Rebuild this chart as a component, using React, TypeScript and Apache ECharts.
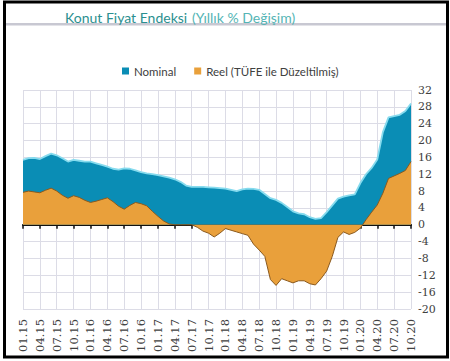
import React, { useEffect, useRef } from "react";
import * as echarts from "echarts";

const years = ["15", "16", "17", "18", "19", "20"];
const months = ["01", "02", "03", "04", "05", "06", "07", "08", "09", "10", "11", "12"];
const lastYearMonths = 10;

const nominal = [
  15.4, 15.8, 15.9, 15.6, 16.3, 16.9, 16.5, 15.8, 15.0, 15.4, 15.2, 15.0,
  15.0, 14.6, 14.2, 13.8, 13.3, 13.1, 13.4, 13.3, 12.9, 12.5, 12.2, 12.0,
  11.8, 11.5, 11.2, 10.8, 10.2, 9.3, 9.0, 9.0, 9.0, 8.9, 8.8, 8.7,
  8.6, 8.3, 8.0, 8.4, 8.6, 8.5, 8.3, 7.3, 6.3, 5.9, 5.2, 4.2,
  3.2, 2.7, 2.5, 1.8, 1.4, 1.6, 3.0, 4.6, 6.2, 6.7, 7.0, 7.2,
  9.9, 12.0, 13.5, 15.5, 22.0, 25.5, 25.8, 26.1, 27.0, 28.8,
];

const reel = [
  7.7, 8.0, 7.8, 7.6, 8.2, 8.7, 8.0, 7.0, 6.3, 6.9, 6.5, 5.8,
  5.3, 5.6, 6.0, 6.4, 5.5, 4.4, 3.7, 4.6, 5.3, 5.0, 4.5, 3.2,
  2.0, 0.9, 0.2, 0.0, 0.0, 0.0, 0.0, -0.6, -1.5, -2.0, -2.9, -2.0,
  -0.9, -1.3, -1.7, -2.1, -2.5, -4.6, -6.0, -7.5, -13.0, -14.4, -12.8, -13.3,
  -13.8, -13.3, -13.3, -14.0, -14.3, -12.8, -11.0, -7.5, -3.0, -1.7, -2.3, -1.8,
  -0.8, 1.2, 3.0, 4.7, 7.5, 11.0, 11.6, 12.2, 12.9, 15.0,
];

const yMin = -20;
const yMax = 32;
const yStep = 4;

const categories: string[] = [];
years.forEach((y, yi) => {
  const n = yi === years.length - 1 ? lastYearMonths : months.length;
  for (let m = 0; m < n; m++) categories.push(months[m] + "." + y);
});

const seriesNames = ["Nominal", "Reel (TÜFE ile Düzeltilmiş)"];

export default function App() {
  const ref = useRef<HTMLDivElement>(null);
  useEffect(() => {
    document.body.style.margin = "0";
    const chart = echarts.init(ref.current!, null, { renderer: "svg" });
    const gridColor = "#dcdce6";
    chart.setOption({
      animation: false,
      backgroundColor: "#ffffff",
      grid: { left: 23, right: 39, top: 90, bottom: 52 },
      legend: {
        data: seriesNames,
        left: 117,
        top: 60,
        icon: "rect",
        itemWidth: 7,
        itemHeight: 7,
        itemGap: 18,
        textStyle: { fontFamily: "Lato", fontSize: 11.5, color: "#404040" },
      },
      xAxis: [
        {
          type: "category",
          data: categories,
          boundaryGap: false,
          position: "bottom",
          axisLine: { show: false, onZero: false },
          axisTick: { show: false },
          axisLabel: {
            interval: 2,
            rotate: 90,
            margin: 10,
            color: "#404040",
            fontFamily: "DejaVu Serif",
            fontSize: 11.5,
          },
          splitLine: { show: true, interval: 2, lineStyle: { color: gridColor, width: 1 } },
        },
        {
          type: "category",
          data: categories,
          boundaryGap: false,
          position: "top",
          axisLine: { show: true, onZero: true, lineStyle: { color: "#111111", width: 2 } },
          axisTick: { show: true, interval: 2, inside: true, length: 4, lineStyle: { color: "#111111", width: 1.5 } },
          axisLabel: { show: false },
          splitLine: { show: false },
        },
      ],
      yAxis: {
        type: "value",
        position: "right",
        min: yMin,
        max: yMax,
        interval: yStep,
        axisLine: { show: false },
        axisTick: { show: false },
        axisLabel: {
          margin: 7,
          color: "#404040",
          fontFamily: "DejaVu Serif",
          fontSize: 11,
        },
        splitLine: { show: true, lineStyle: { color: gridColor, width: 1 } },
      },
      series: [
        {
          name: seriesNames[0],
          type: "line",
          data: nominal,
          xAxisIndex: 0,
          symbol: "none",
          color: "#0a8db5",
          lineStyle: { color: "#86dbee", width: 1.8 },
          areaStyle: { color: "#0a8db5", opacity: 1 },
          z: 2,
        },
        {
          name: seriesNames[1],
          type: "line",
          data: reel,
          xAxisIndex: 0,
          symbol: "none",
          color: "#e9a03b",
          lineStyle: { color: "#8b5a1e", width: 1 },
          areaStyle: { color: "#e9a03b", opacity: 1 },
          z: 3,
        },
      ],
      graphic: [
        {
          type: "rect",
          shape: { x: 6, y: 23, width: 440, height: 2.5 },
          style: { fill: "#c8c8d2" },
          z: 10,
        },
        {
          type: "text",
          x: 65,
          y: 17,
          style: {
            text: "Konut Fiyat Endeksi",
            fill: "#2b8f8f",
            font: "14px Lato",
            textVerticalAlign: "middle",
          },
          z: 10,
        },
        {
          type: "text",
          x: 192,
          y: 17,
          style: {
            text: "(Yıllık % Değişim)",
            fill: "#55b5b5",
            font: "14px Lato",
            textVerticalAlign: "middle",
          },
          z: 10,
        },
        {
          type: "rect",
          shape: { x: 4.5, y: 2, width: 443, height: 355 },
          style: { fill: "none", stroke: "#000000", lineWidth: 3 },
          z: 10,
        },
      ],
    });
    return () => chart.dispose();
  }, []);
  return <div ref={ref} style={{ width: 450, height: 361 }} />;
}
